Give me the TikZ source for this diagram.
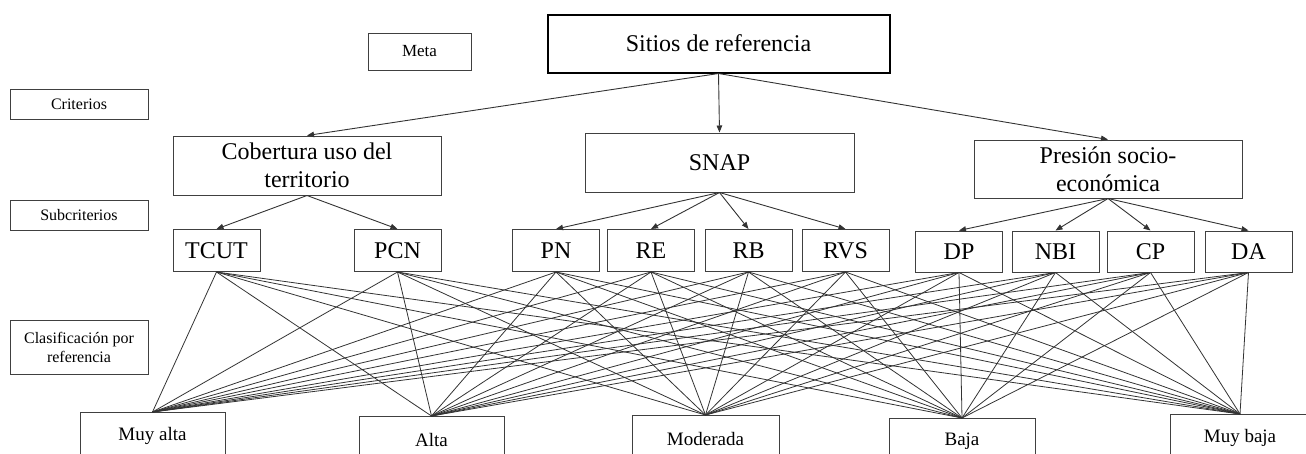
\documentclass[tikz,border=0pt]{standalone}
\usepackage{fontspec}
\setmainfont{Liberation Serif}
\usetikzlibrary{arrows.meta}

\begin{document}
\begin{tikzpicture}[
        x=1pt, y=-1pt,
        caja/.style={rectangle, draw=black!75, line width=1pt, inner sep=2pt, align=center},
        grande/.style={caja, font=\fontsize{24}{28}\selectfont},
        sub/.style={caja, minimum width=87pt, minimum height=42pt, font=\fontsize{24}{28}\selectfont},
        nivel/.style={caja, minimum width=138pt, font=\fontsize{16}{19}\selectfont},
        clase/.style={caja, anchor=north, minimum height=46pt, font=\fontsize{19}{22}\selectfont},
        flecha/.style={-{Triangle[length=7pt,width=5.5pt]}, line width=0.9pt, draw=black!80},
        linea/.style={line width=0.8pt, draw=black!80}
    ]
        \useasboundingbox (0,0) rectangle (1306,453);

        % Niveles de la jerarquía (columna izquierda)
        \node[caja, minimum width=103pt, minimum height=37pt, font=\fontsize{17}{20}\selectfont] (meta) at (419.5,51.5) {Meta};
        \node[nivel, minimum height=30pt] (criterios) at (79,104) {Criterios};
        \node[nivel, minimum height=30pt] (subcriterios) at (79,215) {Subcriterios};
        \node[nivel, minimum height=54pt] (clasif) at (79,347) {Clasificación por\\referencia};

        % Meta
        \node[grande, draw=black, line width=2pt, minimum width=342pt, minimum height=58pt] (sitios) at (718.5,43.5) {Sitios de referencia};

        % Criterios
        \node[grande, minimum width=268pt, minimum height=59pt] (cobertura) at (307,165.5) {Cobertura uso del\\territorio};
        \node[grande, minimum width=269pt, minimum height=59pt] (snap) at (719.5,162.5) {SNAP};
        \node[grande, minimum width=268pt, minimum height=58pt] (presion) at (1108,169) {Presión socio-\\económica};

        % Subcriterios
        \node[sub] (tcut) at (216.5,250.5) {TCUT};
        \node[sub] (pcn) at (397.5,250.5) {PCN};
        \node[sub] (pn) at (556,250.5) {PN};
        \node[sub] (re) at (651,250.5) {RE};
        \node[sub] (rb) at (748.5,250.5) {RB};
        \node[sub] (rvs) at (845.5,250.5) {RVS};
        \node[sub, minimum height=41pt] (dp) at (959,251.5) {DP};
        \node[sub, minimum height=41pt] (nbi) at (1055.5,251.5) {NBI};
        \node[sub, minimum height=41pt] (cp) at (1150.5,251.5) {CP};
        \node[sub, minimum height=41pt] (da) at (1248.5,251.5) {DA};

        % Clasificación
        \node[clase, minimum width=145pt] (muyalta) at (152.5,412) {Muy alta};
        \node[clase, minimum width=145pt] (alta) at (431.5,416) {Alta};
        \node[clase, minimum width=147pt] (moderada) at (705.5,415) {Moderada};
        \node[clase, minimum width=146pt] (baja) at (962,418) {Baja};
        \node[clase, minimum width=140pt] (muybaja) at (1240,414) {Muy baja};

        % Flechas de la meta a los criterios
        \draw[flecha] (sitios.south) -- (cobertura.north);
        \draw[flecha] (sitios.south) -- (snap.north);
        \draw[flecha] (sitios.south) -- (presion.north);

        % Flechas de los criterios a los subcriterios
        \foreach \s in {tcut,pcn}
            \draw[flecha] (cobertura.south) -- (\s.north);
        \foreach \s in {pn,re,rb,rvs}
            \draw[flecha] (snap.south) -- (\s.north);
        \foreach \s in {dp,nbi,cp,da}
            \draw[flecha] (presion.south) -- (\s.north);

        % Cada subcriterio con cada clase
        \foreach \s in {tcut,pcn,pn,re,rb,rvs,dp,nbi,cp,da}
            \foreach \c in {muyalta,alta,moderada,baja,muybaja}
                \draw[linea] (\s.south) -- (\c.north);
\end{tikzpicture}
\end{document}
